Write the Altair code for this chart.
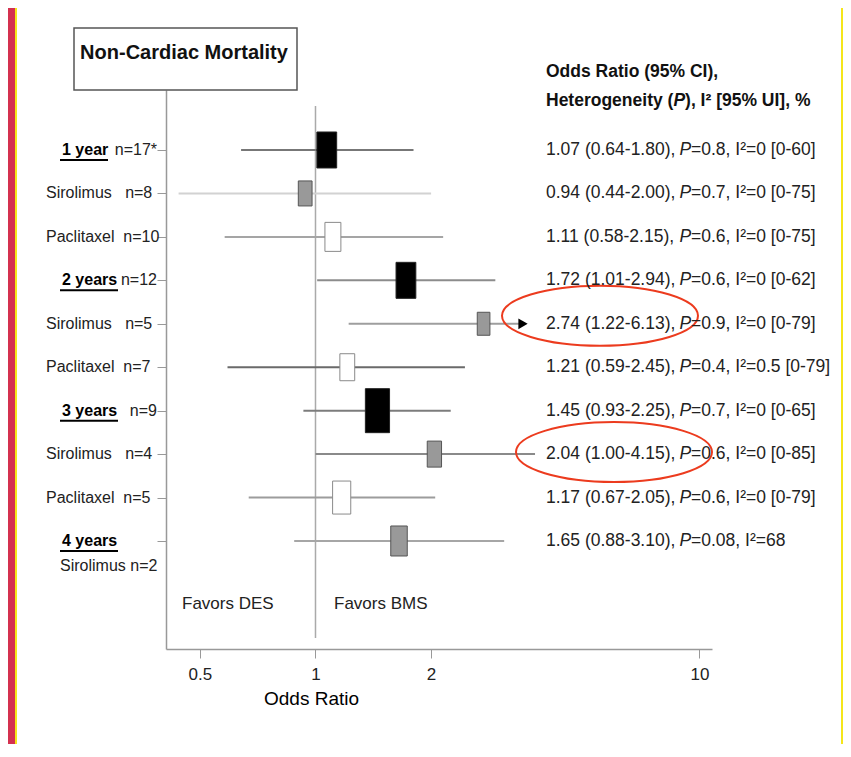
import altair as alt
import pandas as pd

NB = "\u00a0"

# ---------------- data ----------------
group_label = ["1 year", "", "", "2 years", "", "", "3 years", "", "", "4 years"]
group_n = ["n=17*", "", "", "n=12", "", "", "n=9", "", "", ""]
stent_label = ["", "Sirolimus   n=8", "Paclitaxel  n=10", "", "Sirolimus   n=5",
               "Paclitaxel  n=7", "", "Sirolimus   n=4", "Paclitaxel  n=5", ""]
last_sub_label = "Sirolimus n=2"
kind = ["pooled", "sirolimus", "paclitaxel", "pooled", "sirolimus", "paclitaxel",
        "pooled", "sirolimus", "paclitaxel", "sirolimus"]
odds = [1.07, 0.94, 1.11, 1.72, 2.74, 1.21, 1.45, 2.04, 1.17, 1.65]
ci_lo = [0.64, 0.44, 0.58, 1.01, 1.22, 0.59, 0.93, 1.00, 0.67, 0.88]
ci_hi = [1.80, 2.00, 2.15, 2.94, 6.13, 2.45, 2.25, 4.15, 2.05, 3.10]
ci_hi_drawn = [1.80, 2.00, 2.15, 2.94, 3.45, 2.45, 2.25, 3.73, 2.05, 3.10]
p_value = ["0.8", "0.7", "0.6", "0.6", "0.9", "0.4", "0.7", "0.6", "0.6", "0.08"]
i2_text = ["0 [0-60]", "0 [0-75]", "0 [0-75]", "0 [0-62]", "0 [0-79]", "0.5 [0-79]",
           "0 [0-65]", "0 [0-85]", "0 [0-79]", "68"]
weight = [37, 26, 30, 37, 24, 28, 45, 27, 34, 31]   # relative box size (study weight)
arrow_rows = [4]
highlight_rows = [4, 7]
x_ticks = [0.5, 1, 2, 10]

# ---------------- styles ----------------
FONT = "Liberation Sans, Arial, Helvetica, sans-serif"
line_shade = ["#777777", "#d2d2d2", "#a5a5a5", "#8c8c8c", "#9e9e9e",
              "#6a6a6a", "#7c7c7c", "#8a8a8a", "#9c9c9c", "#a6a6a6"]
kind_fill = {"pooled": "#000000", "sirolimus": "#999999", "paclitaxel": "#ffffff"}
kind_stroke = {"pooled": "#222222", "sirolimus": "#555555", "paclitaxel": "#8a8a8a"}
RECT_PATH = "M-0.55,-1L0.55,-1L0.55,1L-0.55,1Z"
k = 0.306
c = 0.552
ELLIPSE_PATH = (f"M-1,0C-1,{-c*k} {-c},{-k} 0,{-k}C{c},{-k} 1,{-c*k} 1,0"
                f"C1,{c*k} {c},{k} 0,{k}C{-c},{k} -1,{c*k} -1,0Z")

df = pd.DataFrame({
    "row": list(range(len(odds))),
    "group_label": group_label,
    "group_n": group_n,
    "stent_label": [s.replace(" ", NB) for s in stent_label],
    "kind": kind,
    "odds": odds,
    "lo": ci_lo,
    "hi": ci_hi,
    "hi_drawn": ci_hi_drawn,
    "line_color": line_shade,
    "box_area": [(w - 1) ** 2 for w in weight],
    "prefix": [f"{o:.2f} ({l:.2f}-{h:.2f})," for o, l, h in zip(odds, ci_lo, ci_hi)],
    "rest": [f"={p}, I\u00b2={i}" for p, i in zip(p_value, i2_text)],
})
df["fill"] = df["kind"].map(kind_fill)
df["stroke"] = df["kind"].map(kind_stroke)

W, H = 546, 559
xs = alt.Scale(type="log", domain=[0.408, 10.78], nice=False)
ys = alt.Scale(domain=[-1.381, 11.486], reverse=True, nice=False, zero=False)

x_axis = alt.Axis(values=x_ticks, format="~g", grid=False, labelFont=FONT, labelFontSize=17,
                  labelColor="#222222", labelPadding=8, labelFlush=False, labelOverlap=False,
                  tickSize=9, tickColor="#999999", domainColor="#999999", domainWidth=1.5,
                  title="Odds Ratio", titleFont=FONT, titleFontSize=19, titleFontWeight="normal",
                  titleColor="#000000", titleX=145, titleY=55, titleAlign="center",
                  titleBaseline="alphabetic")
y_axis = alt.Axis(values=list(range(10)), labels=False, title=None, grid=False, tickSize=9,
                  tickColor="#999999", domainColor="#999999", domainWidth=1.5)


def X(f):
    return alt.X(f, type="quantitative", scale=xs, axis=x_axis)


def Y(f="row"):
    return alt.Y(f, type="quantitative", scale=ys, axis=y_axis)


one = pd.DataFrame({"a": [0]})
base = alt.Chart(df)

layers = []
# frame decoration
layers.append(alt.Chart(one).mark_rect(color="#d4314f").encode(
    x=alt.value(-158), x2=alt.value(-151), y=alt.value(-82), y2=alt.value(654)))
layers.append(alt.Chart(one).mark_rule(color="#f5e61a", strokeWidth=2).encode(
    x=alt.value(-150), y=alt.value(-82), y2=alt.value(654)))
layers.append(alt.Chart(one).mark_rule(color="#f5e61a", strokeWidth=2).encode(
    x=alt.value(676), y=alt.value(-82), y2=alt.value(654)))
# title box
layers.append(alt.Chart(one).mark_rect(fill="white", stroke="#555555", strokeWidth=1.5).encode(
    x=alt.value(-92), x2=alt.value(131), y=alt.value(-62), y2=alt.value(0)))
layers.append(alt.Chart(one).mark_text(font=FONT, fontSize=20, fontWeight="bold", color="#111111",
                                       align="center", baseline="middle").encode(
    x=alt.value(18), y=alt.value(-37), text=alt.value("Non-Cardiac Mortality")))
# reference line at 1
layers.append(alt.Chart(pd.DataFrame({"v": [1.0]})).mark_rule(color="#aaaaaa", strokeWidth=1.5).encode(
    x=X("v"), y=alt.value(16), y2=alt.value(548)))
# CI lines
layers.append(base.mark_rule(strokeWidth=2).encode(
    x=X("lo"), x2=alt.X2("hi_drawn"), y=Y(), color=alt.Color("line_color:N", scale=None)))
# truncation arrow
layers.append(alt.Chart(df[df.row.isin(arrow_rows)]).mark_point(
    shape="triangle-right", filled=True, color="black", size=115, opacity=1, xOffset=1).encode(
    x=X("hi_drawn"), y=Y()))
# boxes
layers.append(base.mark_point(shape=RECT_PATH, filled=True, opacity=1, strokeWidth=1).encode(
    x=X("odds"), y=Y(), size=alt.Size("box_area:Q", scale=None),
    fill=alt.Fill("fill:N", scale=None), stroke=alt.Stroke("stroke:N", scale=None)))
# highlight ellipses
ell_x = [434, 448]
ell_dy = [-8, -2]
for r, ex, ey in zip(highlight_rows, ell_x, ell_dy):
    layers.append(alt.Chart(df[df.row == r]).mark_point(
        shape=ELLIPSE_PATH, filled=False, stroke="#ec3b1e", strokeWidth=2, size=196 ** 2,
        opacity=1, yOffset=ey).encode(x=alt.value(ex), y=Y()))

# left labels
LBL = 16
layers.append(base.transform_filter("datum.stent_label != ''").mark_text(
    font=FONT, fontSize=LBL, color="#222222", align="left", baseline="middle").encode(
    x=alt.value(-120), y=Y(), text="stent_label:N"))
layers.append(base.transform_filter("datum.group_label != ''").mark_text(
    font=FONT, fontSize=LBL, fontWeight="bold", color="#000000", align="left", baseline="middle").encode(
    x=alt.value(-104), y=Y(), text="group_label:N"))
layers.append(base.transform_filter("datum.group_n != ''").mark_text(
    font=FONT, fontSize=LBL, color="#222222", align="right", baseline="middle").encode(
    x=alt.value(-9), y=Y(), text="group_n:N"))
layers.append(alt.Chart(df[df.row == 9]).mark_text(
    font=FONT, fontSize=LBL, color="#222222", align="left", baseline="middle", dy=25).encode(
    x=alt.value(-106), y=Y(), text=alt.value(last_sub_label)))
layers.append(alt.Chart(df[df.row == 0]).mark_rule(color="black", strokeWidth=2, yOffset=10).encode(
    x=alt.value(-106), x2=alt.value(-58), y=Y()))
layers.append(alt.Chart(df[df.row.isin([3, 6, 9])]).mark_rule(color="black", strokeWidth=2, yOffset=10).encode(
    x=alt.value(-106), x2=alt.value(-48), y=Y()))

# right column: header
HS = 17.5
hdr = dict(font=FONT, fontSize=HS, fontWeight="bold", color="#111111", baseline="middle", align="left")
layers.append(alt.Chart(one).mark_text(**hdr).encode(
    x=alt.value(380), y=alt.value(-18), text=alt.value("Odds Ratio (95% CI),")))
layers.append(alt.Chart(one).mark_text(**hdr).encode(
    x=alt.value(380), y=alt.value(11), text=alt.value("Heterogeneity (")))
layers.append(alt.Chart(one).mark_text(fontStyle="italic", **hdr).encode(
    x=alt.value(380 + 7.279 * HS), y=alt.value(11), text=alt.value("P")))
layers.append(alt.Chart(one).mark_text(**hdr).encode(
    x=alt.value(380 + (7.279 + 0.667) * HS), y=alt.value(11), text=alt.value("), I\u00b2 [95% UI], %")))
# right column: values
VS = 17.5
p_x = 380 + 7.393 * VS + 4
val = dict(font=FONT, fontSize=VS, color="#222222", baseline="middle", align="left")
layers.append(base.mark_text(**val).encode(x=alt.value(380), y=Y(), text="prefix:N"))
layers.append(base.mark_text(fontStyle="italic", **val).encode(
    x=alt.value(p_x), y=Y(), text=alt.value("P")))
layers.append(base.mark_text(**val).encode(
    x=alt.value(p_x + 0.667 * VS), y=Y(), text="rest:N"))

# favors labels
fav = dict(font=FONT, fontSize=17, color="#222222", baseline="middle", align="left")
layers.append(alt.Chart(one).mark_text(**fav).encode(
    x=alt.value(16), y=alt.value(514), text=alt.value("Favors DES")))
layers.append(alt.Chart(one).mark_text(**fav).encode(
    x=alt.value(168), y=alt.value(514), text=alt.value("Favors BMS")))

chart = alt.layer(*layers).properties(
    width=W, height=H, background="white",
    autosize=alt.AutoSizeParams(type="none"),
    padding={"left": 158, "top": 82, "right": 131, "bottom": 95},
).configure_view(stroke=None)

chart.save("out.html", embed_options={"renderer": "svg", "actions": False})
